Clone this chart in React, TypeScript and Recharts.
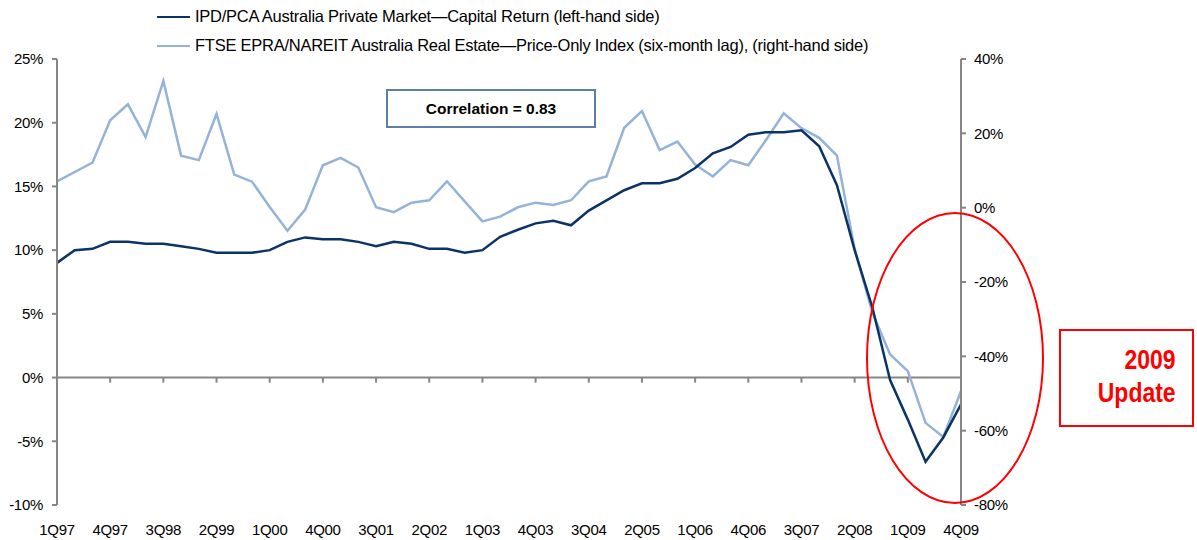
import React from "react";
import {
  ComposedChart,
  Line,
  XAxis,
  YAxis,
  ReferenceLine,
} from "recharts";

document.body.style.margin = "0";

const quarters = [
  "1Q97", "2Q97", "3Q97", "4Q97", "1Q98", "2Q98", "3Q98", "4Q98",
  "1Q99", "2Q99", "3Q99", "4Q99", "1Q00", "2Q00", "3Q00", "4Q00",
  "1Q01", "2Q01", "3Q01", "4Q01", "1Q02", "2Q02", "3Q02", "4Q02",
  "1Q03", "2Q03", "3Q03", "4Q03", "1Q04", "2Q04", "3Q04", "4Q04",
  "1Q05", "2Q05", "3Q05", "4Q05", "1Q06", "2Q06", "3Q06", "4Q06",
  "1Q07", "2Q07", "3Q07", "4Q07", "1Q08", "2Q08", "3Q08", "4Q08",
  "1Q09", "2Q09", "3Q09", "4Q09",
];

// IPD/PCA capital return, % (left axis)
const capitalReturn = [
  9.0, 10.0, 10.1, 10.65, 10.65, 10.5, 10.5, 10.3,
  10.1, 9.8, 9.8, 9.8, 10.0, 10.65, 11.0, 10.85,
  10.85, 10.65, 10.3, 10.65, 10.5, 10.1, 10.1, 9.8,
  10.0, 11.05, 11.6, 12.1, 12.3, 11.95, 13.1, 13.9,
  14.7, 15.25, 15.25, 15.6, 16.45, 17.6, 18.1, 19.05,
  19.25, 19.25, 19.4, 18.15, 15.1, 10.0, 5.5, -0.2,
  -3.3, -6.6, -4.7, -2.1,
];

// FTSE EPRA/NAREIT price-only index, % (right axis, six-month lag)
const priceIndex = [
  7.1, 9.6, 12.1, 23.5, 27.8, 19.0, 34.1, 14.0,
  12.8, 25.2, 8.9, 7.0, 0.2, -6.2, -0.5, 11.4,
  13.4, 10.8, 0.1, -1.2, 1.35, 2.0, 7.1, 1.7,
  -3.7, -2.4, 0.1, 1.35, 0.7, 2.0, 7.1, 8.4,
  21.5, 26.0, 15.5, 17.8, 11.6, 8.4, 12.8, 11.4,
  18.2, 25.4, 21.4, 18.8, 14.0, -11.1, -28.2, -39.5,
  -44.0, -57.9, -61.7, -49.4,
];

const leftTicks = [-10, -5, 0, 5, 10, 15, 20, 25];
const rightTicks = [-80, -60, -40, -20, 0, 20, 40];
const labelQuarters = quarters.filter((_, i) => i % 3 === 0);

const DARK = "#0B3366";
const LIGHT = "#95B3D7";
const AXIS = "#868686";
const FONT = "'Liberation Sans', Arial, sans-serif";

const legendItems = [
  { name: "IPD/PCA Australia Private Market\u2014Capital Return (left-hand side)", color: DARK },
  {
    name: "FTSE EPRA/NAREIT Australia Real Estate\u2014Price-Only Index (six-month lag), (right-hand side)",
    color: LIGHT,
  },
];

const data = quarters.map((q, i) => ({
  q,
  capital: capitalReturn[i],
  price: priceIndex[i],
}));

const tickStyle = { fill: "#000", fontSize: 15, fontFamily: FONT, letterSpacing: -0.3 };

const App = () => {
  return (
    <div style={{ position: "relative", width: 1197, height: 540, background: "#fff" }}>
      <ComposedChart
        width={1197}
        height={540}
        data={data}
        margin={{ top: 59, right: 176, bottom: 2, left: 0 }}
      >
        <XAxis
          dataKey="q"
          scale="point"
          ticks={labelQuarters}
          interval={0}
          axisLine={false}
          tickLine={false}
          tickSize={6}
          tickMargin={13}
          height={33}
          tick={tickStyle}
        />
        <YAxis
          yAxisId="left"
          domain={[-10, 25]}
          ticks={leftTicks}
          width={57}
          tickFormatter={(v: number) => `${v}%`}
          axisLine={{ stroke: AXIS, strokeWidth: 2 }}
          tickLine={{ stroke: AXIS, strokeWidth: 2 }}
          tickSize={5}
          tickMargin={9}
          tick={tickStyle}
        />
        <YAxis
          yAxisId="right"
          orientation="right"
          domain={[-80, 40]}
          ticks={rightTicks}
          width={60}
          tickFormatter={(v: number) => `${v}%`}
          axisLine={{ stroke: AXIS, strokeWidth: 2 }}
          tickLine={{ stroke: AXIS, strokeWidth: 2 }}
          tickSize={5}
          tickMargin={8}
          tick={tickStyle}
        />
        <ReferenceLine yAxisId="left" y={0} stroke={AXIS} strokeWidth={2} />
        {labelQuarters.map((q) => (
          <ReferenceLine
            key={q}
            yAxisId="left"
            segment={[
              { x: q, y: 0 },
              { x: q, y: -0.4 },
            ]}
            stroke={AXIS}
            strokeWidth={2}
          />
        ))}
        <Line
          yAxisId="right"
          dataKey="price"
          name={legendItems[1].name}
          stroke={LIGHT}
          strokeWidth={2.5}
          dot={false}
          isAnimationActive={false}
        />
        <Line
          yAxisId="left"
          dataKey="capital"
          name={legendItems[0].name}
          stroke={DARK}
          strokeWidth={2.5}
          dot={false}
          isAnimationActive={false}
        />
      </ComposedChart>

      {/* legend */}
      <div
        style={{
          position: "absolute",
          left: 157,
          top: 2,
          fontFamily: FONT,
          fontSize: 16.5,
          color: "#000",
        }}
      >
        {legendItems.map((it) => (
          <div key={it.name} style={{ display: "flex", alignItems: "center", height: 29 }}>
            <span
              style={{
                display: "inline-block",
                width: 33,
                borderTop: `2.5px solid ${it.color}`,
                marginRight: 5,
              }}
            />
            <span style={{ letterSpacing: -0.25, whiteSpace: "nowrap" }}>{it.name}</span>
          </div>
        ))}
      </div>

      <div
        style={{
          position: "absolute",
          left: 386,
          top: 89,
          width: 206,
          height: 35,
          border: "2px solid #5B7FA6",
          display: "flex",
          alignItems: "center",
          justifyContent: "center",
          fontFamily: FONT,
          fontWeight: "bold",
          fontSize: 15.5,
          color: "#000",
        }}
      >
        Correlation = 0.83
      </div>

      <div
        style={{
          position: "absolute",
          left: 866,
          top: 212,
          width: 174,
          height: 288,
          border: "2px solid #FF0000",
          borderRadius: "50%",
          pointerEvents: "none",
        }}
      />

      <div
        style={{
          position: "absolute",
          left: 1059,
          top: 329,
          width: 131,
          height: 94,
          border: "2px solid #FF0000",
          fontFamily: FONT,
          fontWeight: "bold",
          fontSize: 28,
          lineHeight: "33px",
          color: "#FF0000",
          textAlign: "right",
        }}
      >
        <div
          style={{
            paddingTop: 12,
            paddingRight: 20,
            transform: "scaleX(0.82)",
            transformOrigin: "right top",
          }}
        >
          2009
          <br />
          Update
        </div>
      </div>
    </div>
  );
};

export default App;
